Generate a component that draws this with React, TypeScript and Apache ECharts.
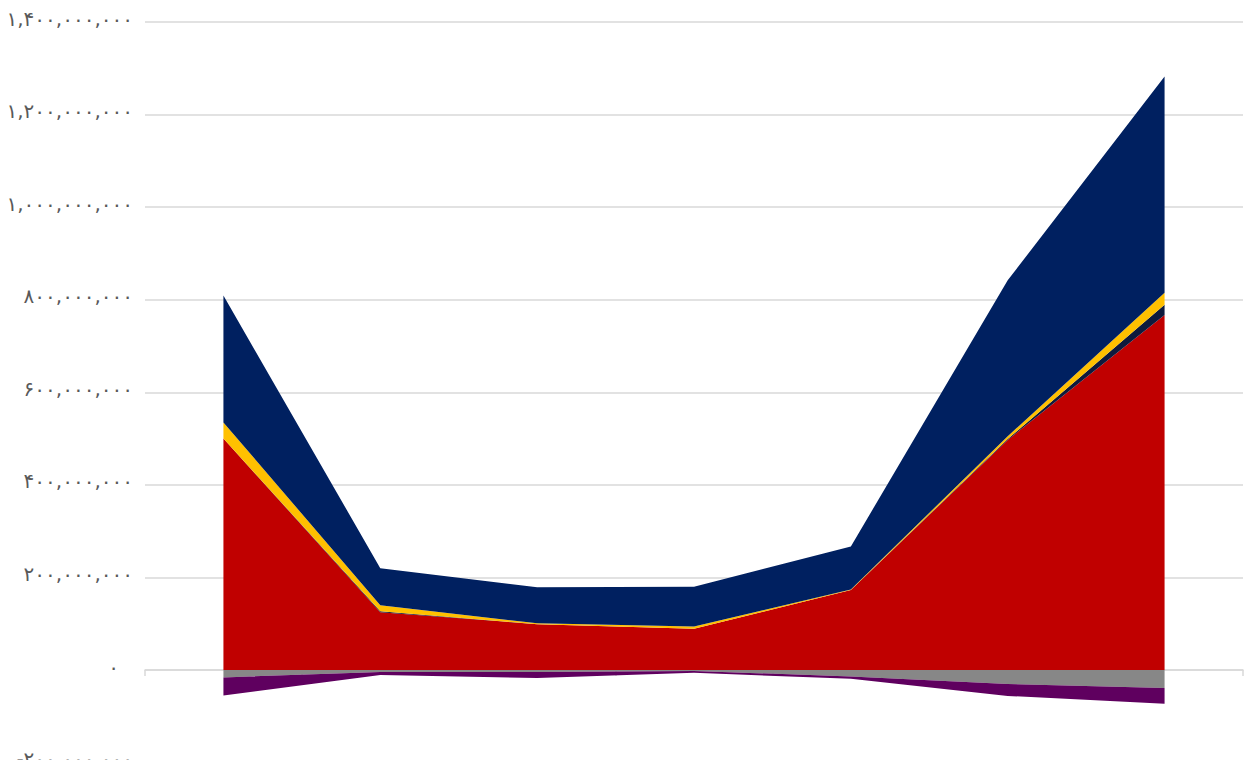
import React, { useEffect, useRef } from "react";
import * as echarts from "echarts";

const categories = ["1", "2", "3", "4", "5", "6", "7"];

const redValues = [500e6, 125e6, 99e6, 89e6, 173e6, 497e6, 767e6];
const darkValues = [0, 2e6, 0, 0, 0, 2e6, 22e6];
const yellowValues = [35e6, 13e6, 2e6, 5e6, 1e6, 6e6, 26e6];
const navyValues = [274e6, 80e6, 78e6, 86e6, 93e6, 337e6, 467e6];
const greyValues = [-16e6, -4e6, -4e6, -2e6, -14e6, -30e6, -39e6];
const purpleValues = [-39e6, -7e6, -13e6, -4e6, -5e6, -26e6, -34e6];

const yMin = -200e6;
const yMax = 1400e6;
const yInterval = 200e6;

const persianDigits = ["۰", "۱", "۲", "۳", "۴", "۵", "۶", "۷", "۸", "۹"];

function toPersian(v: number): string {
  const neg = v < 0;
  const s = Math.abs(Math.round(v)).toString().replace(/\B(?=(\d{3})+(?!\d))/g, ",");
  const p = s.replace(/\d/g, (d) => persianDigits[Number(d)]);
  return (neg ? "-" : "") + p;
}

export default function App() {
  const ref = useRef<HTMLDivElement>(null);
  useEffect(() => {
    document.body.style.margin = "0";
    document.body.style.overflow = "hidden";
    document.documentElement.style.overflow = "hidden";
    if (!ref.current) return;
    const chart = echarts.init(ref.current, undefined, { renderer: "svg" });
    const mk = (name: string, data: number[], color: string) => ({
      name,
      type: "line",
      stack: "total",
      data,
      symbol: "none",
      showSymbol: false,
      lineStyle: { width: 0 },
      areaStyle: { color, opacity: 1 },
      itemStyle: { color },
      silent: true,
    });
    chart.setOption({
      animation: false,
      grid: { left: 145, right: 1, top: 22, bottom: 17.4 },
      xAxis: {
        type: "category",
        data: categories,
        boundaryGap: true,
        axisLine: { onZero: true, lineStyle: { color: "#D9D9D9", width: 1.5 } },
        axisTick: { show: true, length: 6, lineStyle: { color: "#D9D9D9", width: 1.5 } },
        axisLabel: { show: false },
        splitLine: { show: false },
      },
      yAxis: {
        type: "value",
        min: yMin,
        max: yMax,
        interval: yInterval,
        axisLine: { show: false },
        axisTick: { show: false },
        splitLine: { lineStyle: { color: "#D9D9D9", width: 1.5 } },
        axisLabel: {
          margin: 12,
          color: "#595959",
          fontSize: 20,
          fontFamily: "DejaVu Sans",
          padding: [0, 0, 7, 0],
          formatter: (v: number) => (v === 0 ? "{z|" + toPersian(v) + "}" : toPersian(v)),
          rich: {
            z: { color: "#595959", fontSize: 20, fontFamily: "DejaVu Sans", padding: [0, 14, 0, 0] },
          },
        },
      },
      series: [
        mk("red", redValues, "#C00000"),
        mk("dark", darkValues, "#0E1A3D"),
        mk("yellow", yellowValues, "#FFC000"),
        mk("navy", navyValues, "#002060"),
        mk("grey", greyValues, "#878787"),
        mk("purple", purpleValues, "#5F005F"),
      ],
    });
    return () => chart.dispose();
  }, []);
  return <div ref={ref} style={{ width: 1244, height: 780 }} />;
}
